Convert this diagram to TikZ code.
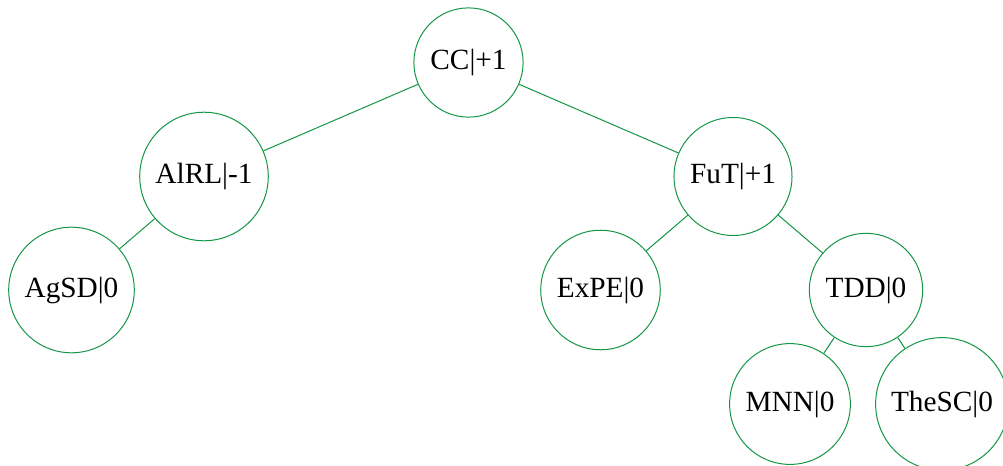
\documentclass[tikz,border=0pt]{standalone}
\usepackage{fontspec}
\setmainfont{Liberation Serif}
\definecolor{treegreen}{RGB}{20,150,70}
\tikzset{
  tnode/.style={circle, draw=treegreen, line width=0.5pt, inner sep=5.5pt, font=\fontsize{14.65pt}{17pt}\selectfont},
  tedge/.style={draw=treegreen, line width=0.5pt}
}
\begin{document}
\begin{tikzpicture}[x=0.5pt,y=-0.5pt]
\useasboundingbox (0,0) rectangle (1003,466);
\clip (0,0) rectangle (1003,466);
\node[tnode] (cc) at (468.5,62.5) {CC|+1};
\node[tnode] (alrl) at (204,176.5) {AlRL|-1};
\node[tnode] (fut) at (733,176.5) {FuT|+1};
\node[tnode] (agsd) at (71.5,290) {AgSD|0};
\node[tnode] (expe) at (600.5,290) {ExPE|0};
\node[tnode] (tdd) at (866,290) {TDD|0};
\node[tnode] (mnn) at (790,404) {MNN|0};
\node[tnode] (thesc) at (942,404) {TheSC|0};
\draw[tedge] (cc) -- (alrl);
\draw[tedge] (cc) -- (fut);
\draw[tedge] (alrl) -- (agsd);
\draw[tedge] (fut) -- (expe);
\draw[tedge] (fut) -- (tdd);
\draw[tedge] (tdd) -- (mnn);
\draw[tedge] (tdd) -- (thesc);
\end{tikzpicture}
\end{document}
